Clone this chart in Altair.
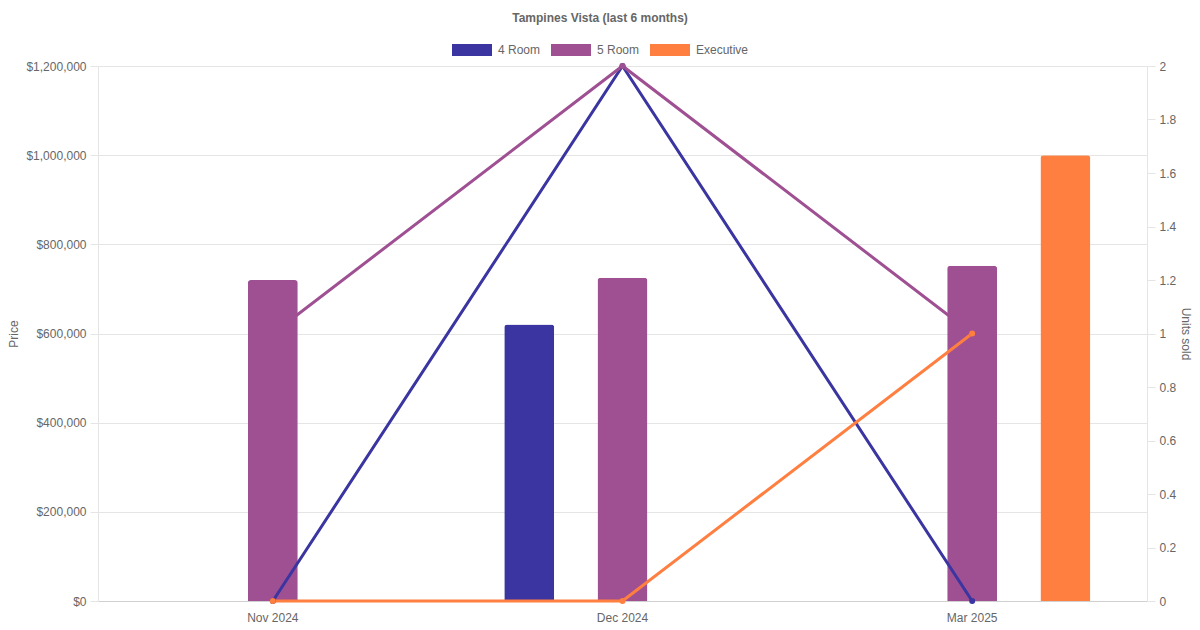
import altair as alt
import pandas as pd

# ---- data ----
months = ["Nov 2024", "Dec 2024", "Mar 2025"]
flat_types = ["4 Room", "5 Room", "Executive"]
type_colors = ["#3A35A0", "#9F5093", "#FF7F41"]

price_4room = [None, 620000, None]
price_5room = [720000, 725000, 752000]
price_exec = [None, None, 1000000]

units_4room = [0, 2, 0]
units_5room = [1, 2, 1]
units_exec = [0, 0, 1]

price_ticks = [0, 200000, 400000, 600000, 800000, 1000000, 1200000]
unit_ticks = [0, 0.2, 0.4, 0.6, 0.8, 1, 1.2, 1.4, 1.6, 1.8, 2]

# ---- long tables ----
price_rows = []
unit_rows = []
for t, prices, units in zip(flat_types,
                            [price_4room, price_5room, price_exec],
                            [units_4room, units_5room, units_exec]):
    for m, p, u in zip(months, prices, units):
        if p is not None:
            price_rows.append({"month": m, "type": t, "price": p})
        unit_rows.append({"month": m, "type": t, "units": u})
df_price = pd.DataFrame(price_rows)
df_units = pd.DataFrame(unit_rows)

FONT = "Liberation Sans"
GRID = "#e5e5e5"
TXT = "#666666"

color_scale = alt.Scale(domain=flat_types, range=type_colors)

bars = alt.Chart(df_price).mark_bar(
    cornerRadiusTopLeft=3, cornerRadiusTopRight=3
).encode(
    x=alt.X(
        "month:N", sort=months,
        scale=alt.Scale(domain=months, paddingInner=0, paddingOuter=0),
        axis=alt.Axis(title=None, labelAngle=0, ticks=False, tickSize=0,
                      labelPadding=11, domainColor="#d0d0d0", grid=False,
                      labelColor=TXT, labelFontSize=12, labelFont=FONT),
    ),
    xOffset=alt.XOffset(
        "type:N",
        scale=alt.Scale(domain=flat_types, paddingInner=0.464, paddingOuter=0.607),
    ),
    y=alt.Y(
        "price:Q",
        scale=alt.Scale(domain=[0, 1200000], nice=False),
        axis=alt.Axis(title="Price", orient="left", values=price_ticks,
                      format="$,.0f", grid=True, gridColor=GRID,
                      tickColor=GRID, tickSize=8, domainColor=GRID,
                      labelPadding=4, labelColor=TXT, labelFontSize=12,
                      labelFont=FONT, titleColor=TXT, titleFontSize=12,
                      titleFontWeight="normal", titleFont=FONT, titlePadding=5),
    ),
    color=alt.Color(
        "type:N", scale=color_scale,
        legend=alt.Legend(title=None, orient="none", legendX=354, legendY=-36,
                          direction="horizontal",
                          symbolType="M-1,-0.3H1V0.3H-1Z", symbolSize=1600,
                          symbolStrokeWidth=0, labelFontSize=12,
                          labelColor=TXT, labelFont=FONT, labelOffset=6,
                          columnPadding=10),
    ),
)

lines = alt.Chart(df_units).mark_line(
    strokeWidth=3,
    point=alt.OverlayMarkDef(filled=True, size=36),
).encode(
    x=alt.X("month:N", sort=months),
    y=alt.Y(
        "units:Q",
        scale=alt.Scale(domain=[0, 2], nice=False),
        axis=alt.Axis(title="Units sold", orient="right", values=unit_ticks,
                      labelExpr="format(datum.value, '.1~f')", grid=False,
                      tickColor=GRID, tickSize=8, domainColor=GRID,
                      labelPadding=4, labelColor=TXT, labelFontSize=12,
                      labelFont=FONT, titleColor=TXT, titleFontSize=12,
                      titleFontWeight="normal", titleFont=FONT, titlePadding=3),
    ),
    color=alt.Color("type:N", scale=color_scale, legend=None),
)

chart = alt.layer(bars, lines).resolve_scale(y="independent").properties(
    width=1049,
    height=535,
    padding={"left": 90, "top": 58, "right": 45, "bottom": 26},
    autosize=alt.AutoSizeParams(type="none"),
    title=alt.TitleParams("Tampines Vista (last 6 months)", anchor="middle",
                          frame="group", dx=-22.5, dy=-1, fontSize=12,
                          fontWeight="bold", color=TXT, font=FONT),
).configure(font=FONT).configure_view(strokeWidth=0)

chart.save("out.html", embed_options={"renderer": "svg", "actions": False})
